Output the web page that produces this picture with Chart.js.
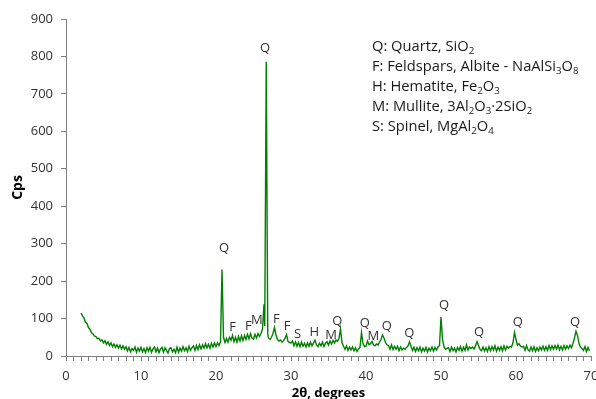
<!DOCTYPE html>
<html><head><meta charset="utf-8">
<script src="https://cdn.jsdelivr.net/npm/chart.js@4/dist/chart.umd.min.js"></script>
<style>
html,body{margin:0;padding:0;background:#fff;}
#wrap{position:relative;width:596px;height:399px;overflow:hidden;}
#c{position:absolute;left:0;top:0;}
#legend{position:absolute;left:372px;top:35px;font-family:"Open Sans";font-size:14.7px;line-height:20px;color:#1a1a1a;white-space:nowrap;}
#legend sub{font-size:0.66em;vertical-align:-0.3em;line-height:0;}
</style></head>
<body><div id="wrap"><canvas id="c" width="600" height="399"></canvas>
<div id="legend">
<div>Q: Quartz, SiO<sub>2</sub></div>
<div>F: Feldspars, Albite - NaAlSi<sub>3</sub>O<sub>8</sub></div>
<div>H: Hematite, Fe<sub>2</sub>O<sub>3</sub></div>
<div>M: Mullite, 3Al<sub>2</sub>O<sub>3</sub>·2SiO<sub>2</sub></div>
<div>S: Spinel, MgAl<sub>2</sub>O<sub>4</sub></div>
</div></div>
<script>
const twoTheta = [
2,2.2,2.4,2.6,2.8, 3,3.2,3.4,3.6,3.8, 4,4.2,4.4,4.6,4.8, 5,5.2,5.4,5.6,5.8,
6,6.2,6.4,6.6,6.8, 7,7.2,7.4,7.6,7.8, 8,8.2,8.4,8.6,8.8, 9,9.2,9.4,9.6,9.8,
10,10.2,10.4,10.6,10.8, 11,11.2,11.4,11.6,11.8, 12,12.2,12.4,12.6,12.8, 13,13.2,13.4,13.6,13.8,
14,14.2,14.4,14.6,14.8, 15,15.2,15.4,15.6,15.8, 16,16.2,16.4,16.6,16.8, 17,17.2,17.4,17.6,17.8,
18,18.2,18.4,18.6,18.8, 19,19.2,19.4,19.6,19.8, 20,20.2,20.4,20.6,20.8, 21,21.2,21.4,21.6,21.8,
22,22.2,22.4,22.6,22.8, 23,23.2,23.4,23.6,23.8, 24,24.2,24.4,24.6,24.8, 25,25.2,25.4,25.6,25.8,
26,26.2,26.4,26.5,26.7,26.9, 27,27.2,27.4,27.6,27.8, 28,28.2,28.4,28.6,28.8, 29,29.2,29.4,29.6,29.8,
30,30.2,30.4,30.6,30.8, 31,31.2,31.4,31.6,31.8, 32,32.2,32.4,32.6,32.8, 33,33.2,33.4,33.6,33.8,
34,34.2,34.4,34.6,34.8, 35,35.2,35.4,35.6,35.8, 36,36.2,36.4,36.6,36.8, 37,37.2,37.4,37.6,37.8,
38,38.2,38.4,38.6,38.8, 39,39.2,39.4,39.6,39.8, 40,40.2,40.4,40.6,40.8, 41,41.2,41.4,41.6,41.8,
42,42.2,42.4,42.6,42.8, 43,43.2,43.4,43.6,43.8, 44,44.2,44.4,44.6,44.8, 45,45.2,45.4,45.6,45.8,
46,46.2,46.4,46.6,46.8, 47,47.2,47.4,47.6,47.8, 48,48.2,48.4,48.6,48.8, 49,49.2,49.4,49.6,49.8,
50,50.2,50.4,50.6,50.8, 51,51.2,51.4,51.6,51.8, 52,52.2,52.4,52.6,52.8, 53,53.2,53.4,53.6,53.8,
54,54.2,54.4,54.6,54.8, 55,55.2,55.4,55.6,55.8, 56,56.2,56.4,56.6,56.8, 57,57.2,57.4,57.6,57.8,
58,58.2,58.4,58.6,58.8, 59,59.2,59.4,59.6,59.8, 60,60.2,60.4,60.6,60.8, 61,61.2,61.4,61.6,61.8,
62,62.2,62.4,62.6,62.8, 63,63.2,63.4,63.6,63.8, 64,64.2,64.4,64.6,64.8, 65,65.2,65.4,65.6,65.8,
66,66.2,66.4,66.6,66.8, 67,67.2,67.4,67.6,67.8, 68,68.2,68.4,68.6,68.8, 69,69.2,69.4,69.6,69.8
];
const cps = [
115,107,101,90,87, 76,71,62,59,53, 52,46,47,40,43, 35,41,31,38,28,
35,25,32,23,30, 21,29,19,27,18, 25,14,23,11,20, 15,24,10,21,13,
23,11,20,9,22, 13,23,10,19,24, 11,21,9,19,23, 10,22,15,8,20,
22,11,18,9,24, 10,21,13,25,14, 22,12,26,15,22, 27,15,28,17,30,
19,30,21,33,22, 31,21,34,24,35, 25,35,28,38,231, 50,36,47,37,50,
42,55,38,50,37, 52,40,54,41,55, 44,58,46,60,48, 45,58,48,60,52,
60,72,138,80,786,58, 48,44,50,60,76, 56,44,40,43,37, 41,47,57,39,36,
35,40,27,38,26, 36,25,37,26,34, 24,35,26,37,27, 35,42,30,25,34,
27,37,25,34,38, 29,40,32,42,35, 43,39,47,72,36, 26,18,27,15,24,
16,24,14,22,12, 19,23,63,33,25, 26,40,30,33,39, 30,27,32,29,38,
44,56,48,36,30, 28,18,30,17,26, 18,26,14,24,16, 21,18,23,27,38,
26,15,23,12,22, 14,24,11,21,13, 23,11,21,14,24, 13,23,16,24,28,
104,45,24,18,21, 22,12,24,14,21, 11,23,15,25,13, 24,15,30,16,24,
20,24,19,27,38, 28,18,14,24,13, 22,12,25,14,25, 16,27,13,24,15,
25,14,27,16,26, 21,26,24,36,63, 44,29,33,26,24, 26,15,28,17,13,
24,14,25,12,22, 14,24,16,26,15, 25,15,28,17,27, 18,28,19,29,16,
26,16,28,18,27, 20,29,22,34,48, 66,55,33,24,20, 15,25,12,23,14
];
const yTicks = [0,100,200,300,400,500,600,700,800,900];
const xTickLabels = [0,10,20,30,40,50,60,70];
const peakLabels = ['Q','Q','F','F','M','F','F','S','H','M','Q','Q','M','Q','Q','Q','Q','Q','Q'];
const peakAngles = [21.07,26.53,22.23,24.31,25.43,28.04,29.47,30.89,33.11,35.33,36.17,39.83,40.97,42.76,45.77,50.4,55.07,60.23,67.87];
const peakHeights = [288,823,77,80,96,98,80,58,62,54,94,87,53,78,61,136,63,90,90];

const points = twoTheta.map((t,i)=>({x:t,y:cps[i]}));
const axisColor = '#7f7f7f';
const textColor = '#333333';

const peakPlugin = {
  id:'peaks',
  afterDatasetsDraw(chart){
    const ctx = chart.ctx, xs = chart.scales.x, ys = chart.scales.y;
    ctx.save();
    ctx.font = '13px "Open Sans"';
    ctx.fillStyle = textColor;
    ctx.textAlign = 'center';
    ctx.textBaseline = 'middle';
    peakLabels.forEach((l,i)=>{
      ctx.fillText(l, xs.getPixelForValue(peakAngles[i]), ys.getPixelForValue(peakHeights[i]));
    });
    ctx.restore();
  }
};

new Chart(document.getElementById('c'), {
  type:'line',
  data:{datasets:[{data:points, borderColor:'rgb(0,128,0)', borderWidth:1.4, pointRadius:0, fill:false, tension:0}]},
  options:{
    responsive:false, animation:false, devicePixelRatio:1,
    layout:{padding:{top:19,right:9,bottom:0,left:0}},
    plugins:{legend:{display:false}, tooltip:{enabled:false}},
    scales:{
      x:{type:'linear', min:0, max:70,
        afterFit(s){s.height=43; s.paddingLeft=0; s.paddingRight=0;},
        afterBuildTicks(s){ const t=[]; for(let v=0; v<=70; v++) t.push({value:v}); s.ticks=t; },
        ticks:{autoSkip:false, maxRotation:0, padding:7, color:textColor, font:{family:'Open Sans', size:13},
          callback:(v)=> xTickLabels.includes(v) ? String(v) : ''},
        grid:{display:true, drawOnChartArea:false, drawTicks:true, tickLength:5, color:axisColor},
        border:{display:true, color:axisColor},
        title:{display:true, text:'2θ, degrees', color:'#000', font:{family:'Open Sans', size:13, weight:'bold'}, padding:{top:0,bottom:-2}}
      },
      y:{min:0, max:900,
        afterFit(s){s.width=66;},
        afterBuildTicks(s){ s.ticks = yTicks.map(v=>({value:v})); },
        ticks:{padding:8, color:textColor, font:{family:'Open Sans', size:13}},
        grid:{display:true, drawOnChartArea:false, drawTicks:true, tickLength:5, color:axisColor},
        border:{display:true, color:axisColor},
        title:{display:true, text:'Cps', color:'#000', font:{family:'Open Sans', size:14, weight:'bold'}, padding:{top:10,bottom:0}}
      }
    }
  },
  plugins:[peakPlugin]
});
</script>
</body></html>
